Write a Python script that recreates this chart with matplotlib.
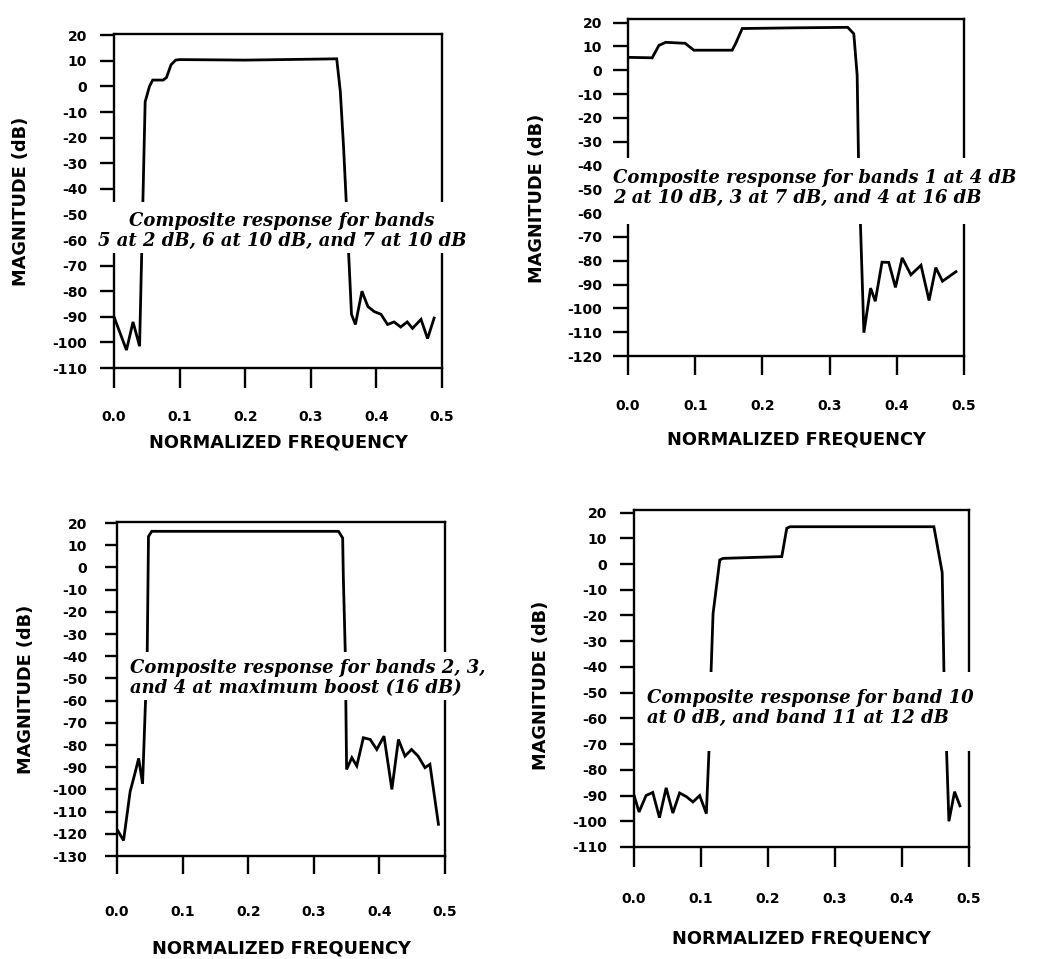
import matplotlib.pyplot as plt
from matplotlib.patches import Rectangle

plt.rcParams['font.family'] = 'DejaVu Sans'
plt.rcParams['font.weight'] = 'bold'
plt.rcParams['axes.unicode_minus'] = False

W, H = 1041, 959

# bands 5, 6, 7
freq_a = [0.000, 0.019, 0.029, 0.039, 0.0475, 0.054, 0.059, 0.075, 0.080, 0.087, 0.094, 0.100,
          0.200, 0.3395, 0.345, 0.350, 0.354, 0.358, 0.362, 0.368, 0.378, 0.387, 0.397, 0.407,
          0.417, 0.427, 0.437, 0.447, 0.455, 0.468, 0.478, 0.488]
mag_a = [-90, -103, -92, -101.5, -6, 0, 2.5, 2.5, 3.5, 8.5, 10.3, 10.5,
         10.3, 10.8, -2, -24, -45, -67, -89, -93, -80, -86, -88, -89,
         -93, -92, -94, -92, -94.5, -91, -98.5, -90.5]

# bands 1 to 4
freq_b = [0.000, 0.036, 0.046, 0.056, 0.085, 0.098, 0.155, 0.160, 0.170, 0.250, 0.327, 0.336,
          0.341, 0.343, 0.346, 0.351, 0.361, 0.368, 0.378, 0.388, 0.398, 0.408, 0.421, 0.436,
          0.448, 0.458, 0.468, 0.488]
mag_b = [5.4, 5.2, 10.4, 11.7, 11.3, 8.4, 8.4, 11.1, 17.5, 17.8, 18.0, 15.3,
         -2.1, -37, -65.5, -110.2, -91.5, -97, -80.6, -80.7, -91.2, -78.8, -85.9, -81.9,
         -96.7, -82.9, -88.6, -84.6]

# bands 2, 3, 4 at maximum boost
freq_c = [0.000, 0.010, 0.020, 0.028, 0.033, 0.039, 0.043, 0.046, 0.048, 0.053, 0.200, 0.3376,
          0.344, 0.345, 0.348, 0.350, 0.358, 0.3655, 0.3756, 0.386, 0.396, 0.407, 0.419, 0.429,
          0.439, 0.449, 0.459, 0.4695, 0.477, 0.490]
mag_c = [-118, -123, -101, -92, -86, -97.5, -64, -40, 14, 16.3, 16.3, 16.3,
         13.3, -4, -38.5, -91, -85.7, -89.4, -76.7, -77.5, -82, -76, -100, -77.5,
         -85, -82, -85, -90.2, -88.7, -115.7]

# bands 10 and 11
freq_d = [0.000, 0.0075, 0.018, 0.028, 0.038, 0.048, 0.058, 0.068, 0.078, 0.088, 0.098, 0.108,
          0.112, 0.115, 0.118, 0.128, 0.133, 0.2206, 0.228, 0.233, 0.4476, 0.460, 0.4626, 0.470,
          0.4785, 0.4865]
mag_d = [-89.8, -96.4, -90, -88.8, -98.6, -87, -96.8, -89, -90.4, -92.5, -90, -97,
         -72, -42, -19.3, 1.6, 2.2, 2.9, 13.9, 14.5, 14.5, -3.3, -41.8, -100,
         -88.5, -94]

freq_ticks = [0.0, 0.1, 0.2, 0.3, 0.4, 0.5]

notes = [
    "Composite response for bands\n5 at 2 dB, 6 at 10 dB, and 7 at 10 dB",
    "Composite response for bands 1 at 4 dB\n2 at 10 dB, 3 at 7 dB, and 4 at 16 dB",
    "Composite response for bands 2, 3,\nand 4 at maximum boost (16 dB)",
    "Composite response for band 10\nat 0 dB, and band 11 at 12 dB",
]

# layout in pixels: frame (left, top, right, bottom), white box behind the note,
# note anchor, tick sizes/pads in points, label positions in axes fraction
panels = [
    dict(freq=freq_a, mag=mag_a, ylim=(-110, 20.5), ymin=-110,
         frame=(114, 34, 442, 368), box=(90, 202, 480, 253),
         note_xy=(282, 231), note_ha='center',
         xlen=14.4, xpad=16, ylen=10, ypad=9.4, xlab=-0.195, ylab=(-0.256, 0.5)),
    dict(freq=freq_b, mag=mag_b, ylim=(-120, 21.5), ymin=-120,
         frame=(628, 19, 964, 356), box=(606, 158, 1040, 224),
         note_xy=(613, 188), note_ha='left',
         xlen=13.7, xpad=17.4, ylen=10.8, ypad=8, xlab=-0.220, ylab=(-0.244, 0.469)),
    dict(freq=freq_c, mag=mag_c, ylim=(-130, 20.5), ymin=-130,
         frame=(117, 522, 445, 856), box=(124, 652, 492, 700),
         note_xy=(130, 678), note_ha='left',
         xlen=13, xpad=22.4, ylen=8.6, ypad=13, xlab=-0.251, ylab=(-0.250, 0.5)),
    dict(freq=freq_d, mag=mag_d, ylim=(-110, 21), ymin=-110,
         frame=(634, 510, 969, 847), box=(640, 672, 995, 751),
         note_xy=(647, 708), note_ha='left',
         xlen=14.4, xpad=18, ylen=10, ypad=9.4, xlab=-0.246, ylab=(-0.251, 0.481)),
]

fig = plt.figure(figsize=(W / 100, H / 100), dpi=100)

for p, note in zip(panels, notes):
    l, t, r, b = p['frame']
    ax = fig.add_axes([l / W, 1 - b / H, (r - l) / W, (b - t) / H])
    ax.plot(p['freq'], p['mag'], color='black', lw=2.0, solid_joinstyle='miter')
    ax.set_xlim(0, 0.5)
    ax.set_ylim(*p['ylim'])
    ax.set_xticks(freq_ticks)
    ax.set_xticklabels([f"{v:.1f}" for v in freq_ticks])
    ax.set_yticks(list(range(p['ymin'], 21, 10)))
    for s in ax.spines.values():
        s.set_linewidth(1.7)
    ax.tick_params(axis='x', direction='out', length=p['xlen'], width=1.7,
                   pad=p['xpad'], labelsize=10)
    ax.tick_params(axis='y', direction='out', length=p['ylen'], width=1.7,
                   pad=p['ypad'], labelsize=10)
    ax.set_xlabel('NORMALIZED FREQUENCY', fontsize=12.8, fontweight='bold')
    ax.set_ylabel('MAGNITUDE (dB)', fontsize=12.8, fontweight='bold')
    ax.xaxis.set_label_coords(0.5, p['xlab'])
    ax.yaxis.set_label_coords(*p['ylab'])

    # white patch under the note hides the trace and the frame
    x0, y0, x1, y1 = p['box']
    fig.add_artist(Rectangle((x0 / W, 1 - y1 / H), (x1 - x0) / W, (y1 - y0) / H,
                             transform=fig.transFigure, facecolor='white',
                             edgecolor='none', zorder=5))
    nx, ny = p['note_xy']
    fig.text(nx / W, 1 - ny / H, note, ha=p['note_ha'], va='center',
             multialignment=p['note_ha'], family='DejaVu Serif', style='italic',
             weight='bold', fontsize=13, linespacing=1.1, zorder=6)

fig.savefig('out.png', dpi=100, facecolor='white')
